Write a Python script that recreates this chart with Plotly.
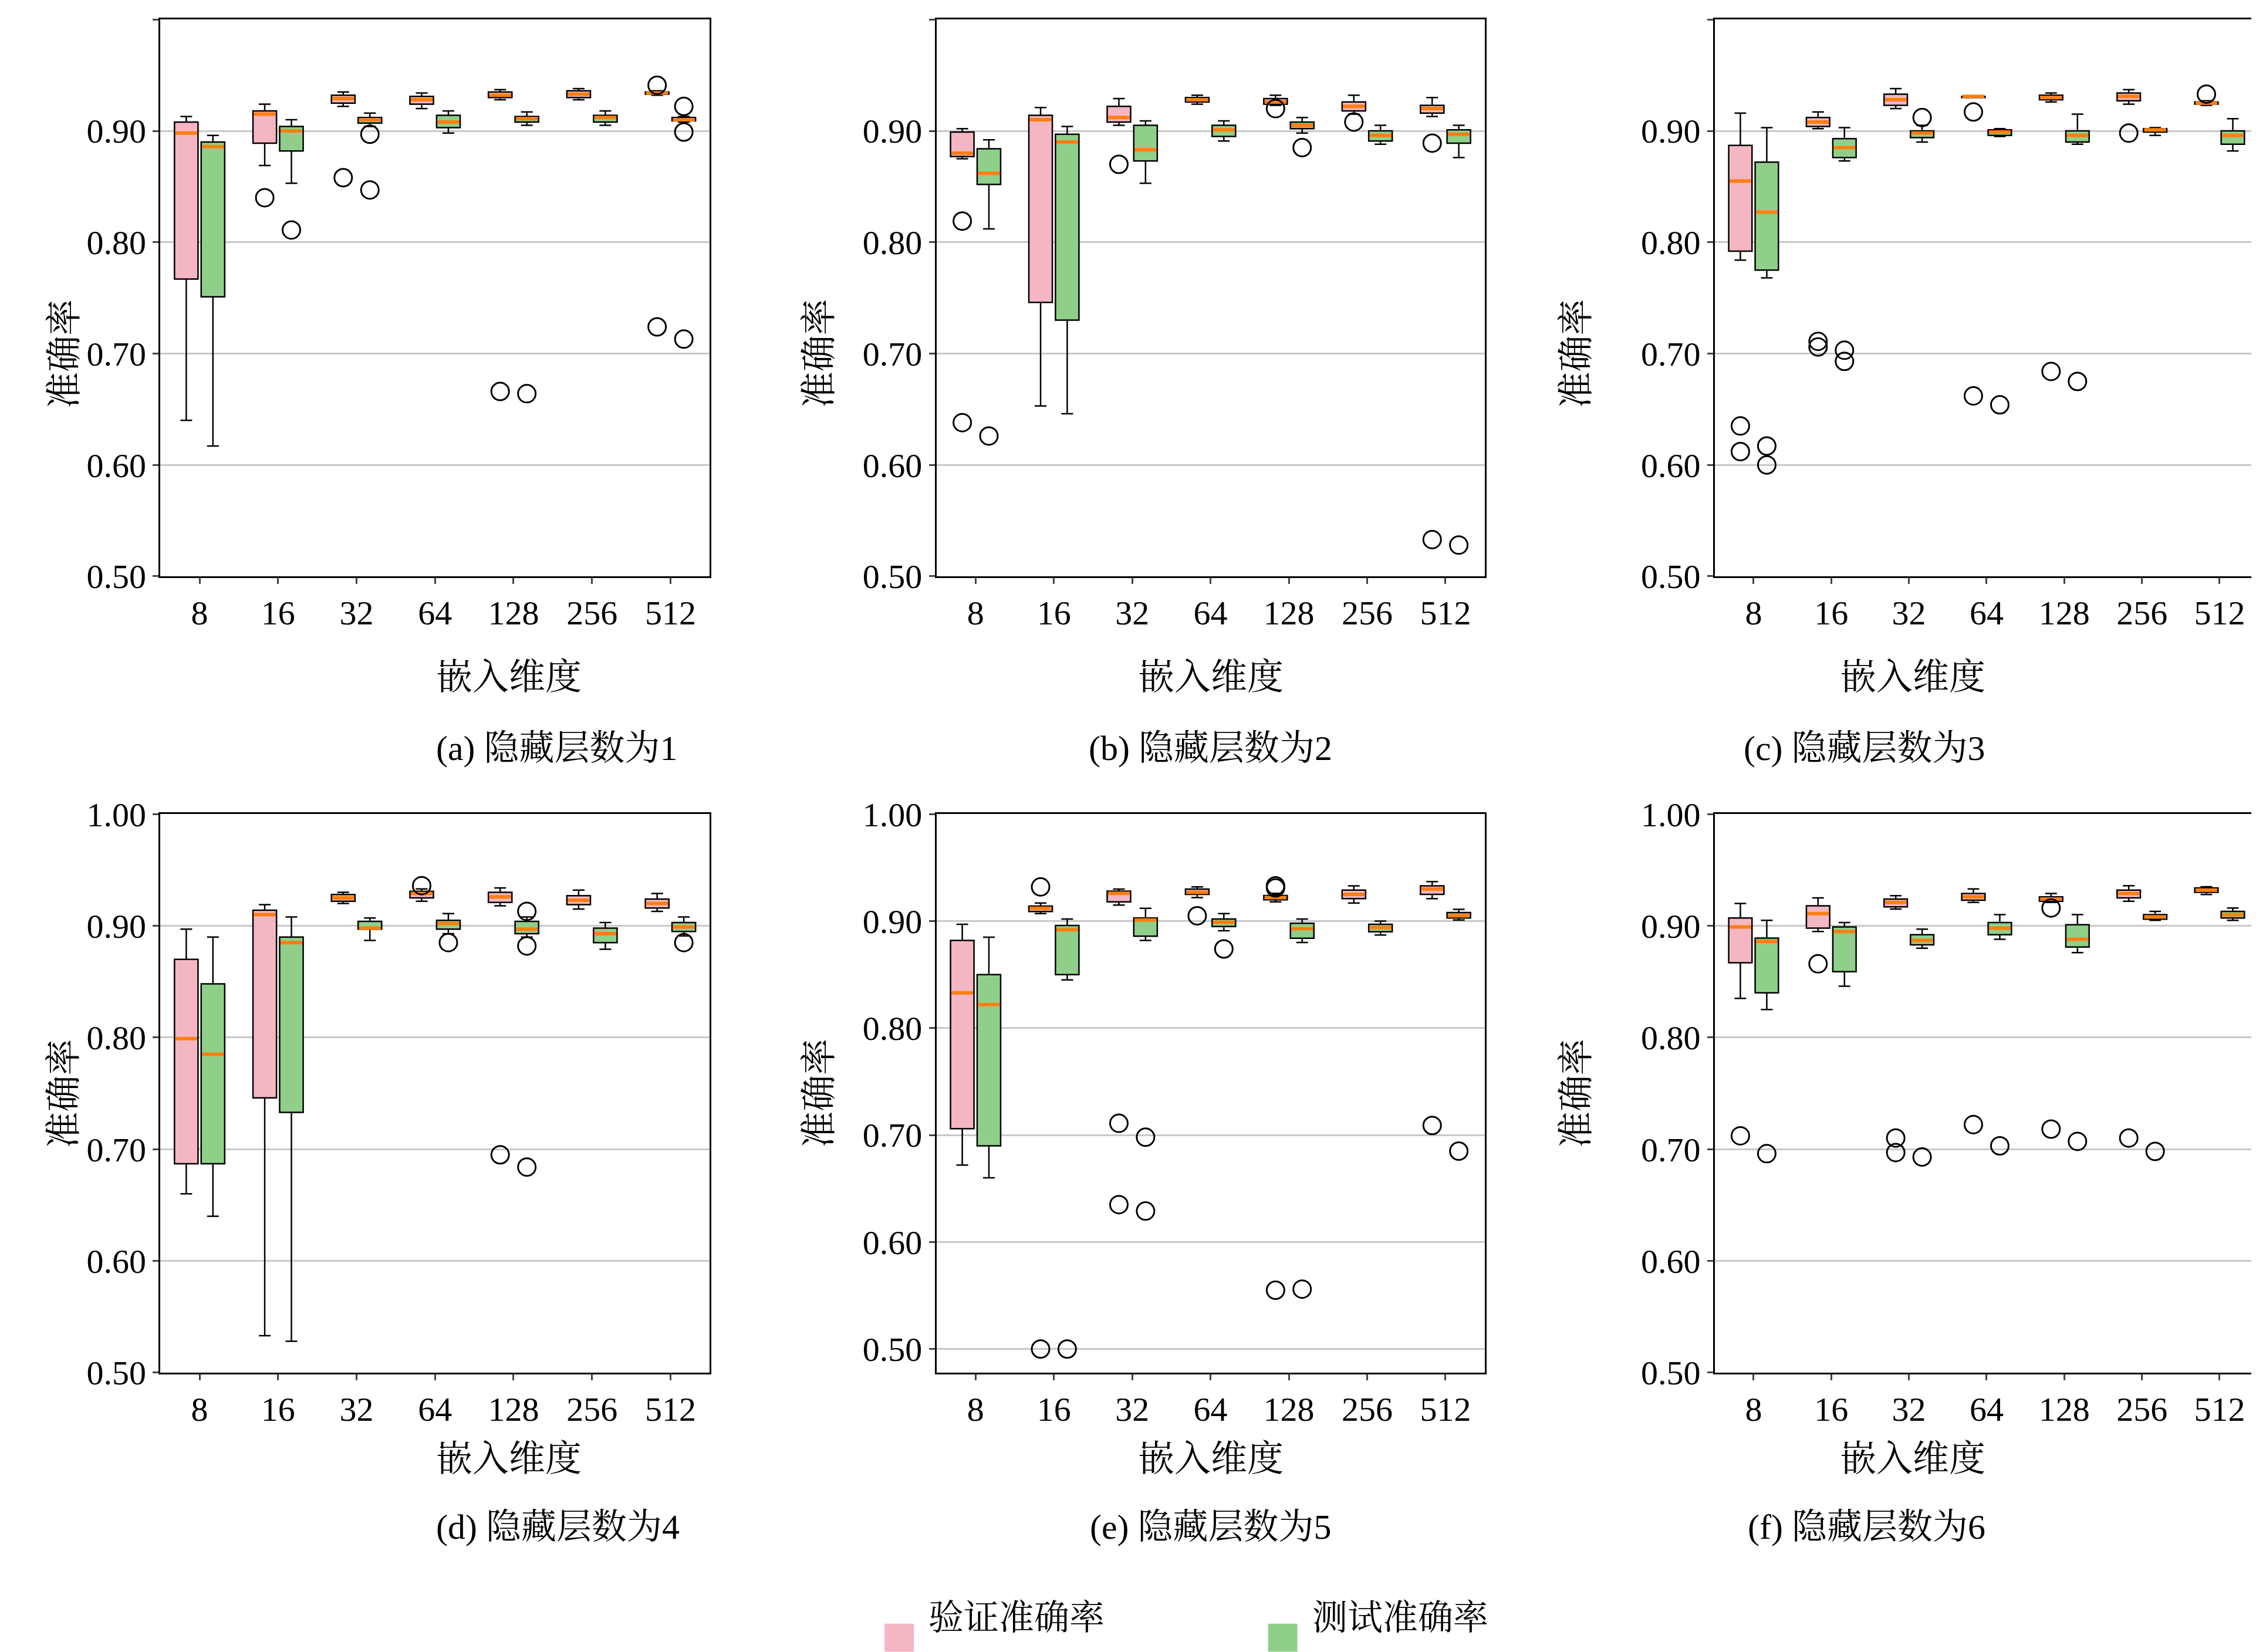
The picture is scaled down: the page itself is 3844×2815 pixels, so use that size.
import plotly.graph_objects as go
from plotly.subplots import make_subplots

dims = ["8", "16", "32", "64", "128", "256", "512"]
captions = ["(a) 隐藏层数为1", "(b) 隐藏层数为2", "(c) 隐藏层数为3",
            "(d) 隐藏层数为4", "(e) 隐藏层数为5", "(f) 隐藏层数为6"]
legend_names = ["验证准确率", "测试准确率"]

# each box: (lower whisker, q1, median, q3, upper whisker, [outliers])
val_a = [(0.640,0.767,0.898,0.908,0.913,[]),(0.869,0.889,0.915,0.918,0.924,[0.840]),(0.922,0.925,0.929,0.932,0.935,[0.858]),
         (0.920,0.924,0.928,0.931,0.934,[]),(0.928,0.930,0.932,0.935,0.937,[0.666]),(0.928,0.930,0.933,0.936,0.938,[]),
         (0.932,0.933,0.934,0.935,0.936,[0.941,0.724])]
test_a = [(0.617,0.751,0.886,0.890,0.896,[]),(0.853,0.882,0.900,0.904,0.910,[0.811]),(0.904,0.907,0.910,0.912,0.916,[0.847,0.897]),
          (0.898,0.903,0.908,0.914,0.918,[]),(0.905,0.908,0.911,0.913,0.917,[0.664]),(0.905,0.908,0.912,0.914,0.918,[]),
          (0.908,0.909,0.910,0.912,0.913,[0.922,0.899,0.713])]
val_b = [(0.875,0.877,0.880,0.899,0.902,[0.819,0.638]),(0.653,0.746,0.910,0.914,0.921,[]),(0.905,0.908,0.912,0.922,0.929,[0.870]),
         (0.924,0.926,0.928,0.930,0.932,[]),(0.923,0.924,0.926,0.929,0.932,[0.920]),(0.915,0.918,0.922,0.926,0.932,[0.908]),
         (0.913,0.916,0.920,0.923,0.930,[0.889,0.533])]
test_b = [(0.812,0.852,0.862,0.884,0.892,[0.626]),(0.646,0.730,0.890,0.897,0.904,[]),(0.853,0.873,0.883,0.905,0.909,[]),
          (0.891,0.895,0.901,0.905,0.909,[]),(0.898,0.902,0.905,0.908,0.912,[0.885]),(0.888,0.891,0.896,0.900,0.905,[]),
          (0.876,0.889,0.897,0.901,0.905,[0.528])]
val_c = [(0.784,0.792,0.855,0.887,0.916,[0.635,0.612]),(0.902,0.904,0.908,0.912,0.917,[0.711,0.706]),(0.920,0.923,0.928,0.933,0.938,[]),
         (0.930,0.930,0.931,0.931,0.931,[0.917,0.662]),(0.926,0.928,0.930,0.932,0.934,[0.684]),(0.924,0.927,0.931,0.934,0.937,[0.898]),
         (0.923,0.924,0.925,0.926,0.927,[0.933])]
test_c = [(0.768,0.775,0.827,0.872,0.903,[0.617,0.600]),(0.873,0.876,0.885,0.893,0.903,[0.703,0.693]),(0.890,0.894,0.898,0.900,0.905,[0.912]),
          (0.895,0.896,0.899,0.901,0.902,[0.654]),(0.888,0.890,0.896,0.900,0.915,[0.675]),(0.896,0.899,0.901,0.902,0.903,[]),
          (0.882,0.888,0.896,0.900,0.911,[])]
val_d = [(0.660,0.687,0.799,0.870,0.897,[]),(0.533,0.746,0.910,0.914,0.919,[]),(0.920,0.922,0.925,0.928,0.930,[]),
         (0.922,0.925,0.929,0.931,0.933,[0.936]),(0.918,0.921,0.926,0.930,0.934,[0.695]),(0.915,0.919,0.923,0.927,0.932,[]),
         (0.913,0.916,0.920,0.924,0.929,[])]
test_d = [(0.640,0.687,0.785,0.848,0.890,[]),(0.528,0.733,0.885,0.890,0.908,[]),(0.887,0.897,0.898,0.904,0.907,[]),
          (0.893,0.897,0.902,0.905,0.911,[0.885]),(0.890,0.893,0.897,0.904,0.908,[0.913,0.882,0.684]),(0.879,0.885,0.893,0.898,0.903,[]),
          (0.891,0.895,0.899,0.903,0.908,[0.885])]
val_e = [(0.672,0.706,0.833,0.882,0.897,[]),(0.907,0.909,0.912,0.914,0.917,[0.932,0.500]),(0.915,0.918,0.926,0.928,0.930,[0.711,0.635]),
         (0.922,0.925,0.927,0.930,0.932,[0.905]),(0.918,0.920,0.922,0.924,0.926,[0.933,0.931,0.555]),(0.917,0.921,0.925,0.929,0.933,[]),
         (0.921,0.925,0.930,0.933,0.937,[0.709])]
test_e = [(0.660,0.690,0.822,0.850,0.885,[]),(0.845,0.850,0.892,0.896,0.902,[0.500]),(0.882,0.886,0.901,0.903,0.912,[0.698,0.629]),
          (0.891,0.895,0.899,0.902,0.907,[0.874]),(0.880,0.884,0.893,0.898,0.902,[0.556]),(0.887,0.890,0.894,0.897,0.900,[]),
          (0.901,0.903,0.905,0.908,0.911,[0.685])]
val_f = [(0.835,0.867,0.899,0.907,0.920,[0.712]),(0.895,0.898,0.911,0.918,0.925,[0.866]),(0.915,0.917,0.921,0.924,0.927,[0.710,0.697]),
         (0.921,0.923,0.926,0.929,0.933,[0.722]),(0.921,0.922,0.924,0.926,0.929,[0.916,0.718]),(0.922,0.925,0.929,0.932,0.936,[0.710]),
         (0.928,0.930,0.932,0.934,0.935,[])]
test_f = [(0.825,0.840,0.886,0.889,0.905,[0.696]),(0.846,0.859,0.895,0.899,0.903,[]),(0.880,0.883,0.887,0.892,0.897,[0.693]),
          (0.888,0.892,0.898,0.903,0.910,[0.703]),(0.876,0.881,0.888,0.901,0.910,[0.707]),(0.905,0.906,0.908,0.910,0.913,[0.698]),
          (0.905,0.907,0.910,0.913,0.916,[])]

panels = [(val_a, test_a), (val_b, test_b), (val_c, test_c), (val_d, test_d), (val_e, test_e), (val_f, test_f)]
yranges = [[0.5, 1.0]] * 4 + [[0.478, 1.0]] + [[0.5, 1.0]]

FONT = "Liberation Serif, Times New Roman, Noto Serif CJK SC, Noto Sans CJK SC"
PINK, GREEN, ORANGE = "#f4b6c2", "#8fcf8a", "#ff7f0e"
OFF, W = 0.17, 0.3

fig = make_subplots(rows=2, cols=3)
xdom = [[0.069, 0.3125], [0.413, 0.656], [0.758, 0.999]]
ydom = [[0.654, 0.991], [0.172, 0.510]]

for p, (vals, tests) in enumerate(panels):
    r, c = p // 3 + 1, p % 3 + 1
    for series, off, col in [(vals, -OFF, PINK), (tests, OFF, GREEN)]:
        xs = [i + off for i in range(len(dims))]
        fig.add_trace(go.Box(
            x=xs, lowerfence=[s[0] for s in series], q1=[s[1] for s in series], median=[s[2] for s in series],
            q3=[s[3] for s in series], upperfence=[s[4] for s in series],
            fillcolor=col, line=dict(color="black", width=2.5), width=W, whiskerwidth=0.5,
            showlegend=False, hoverinfo="skip"), row=r, col=c)
        mx, my = [], []
        for x, s in zip(xs, series):
            mx += [x - W / 2 + 0.01, x + W / 2 - 0.01, None]
            my += [s[2], s[2], None]
        fig.add_trace(go.Scatter(x=mx, y=my, mode="lines", line=dict(color=ORANGE, width=6),
                                 showlegend=False, hoverinfo="skip"), row=r, col=c)
        ox, oy = [], []
        for x, s in zip(xs, series):
            for o in s[5]:
                ox.append(x); oy.append(o)
        fig.add_trace(go.Scatter(x=ox, y=oy, mode="markers",
                                 marker=dict(symbol="circle-open", size=30, color="black", line=dict(width=3)),
                                 showlegend=False, hoverinfo="skip"), row=r, col=c)
    ax = "" if p == 0 else str(p + 1)
    fig.layout["xaxis" + ax].update(domain=xdom[c - 1], range=[-0.5, 6.5], tickvals=list(range(7)), ticktext=dims,
                                    showline=True, mirror=True, linecolor="black", linewidth=2.5, ticks="outside",
                                    ticklen=10, tickwidth=2.5, showgrid=False, zeroline=False,
                                    tickfont=dict(size=58, family=FONT, color="black"))
    fig.layout["yaxis" + ax].update(domain=ydom[r - 1], range=yranges[p], tickvals=[0.5, 0.6, 0.7, 0.8, 0.9, 1.0],
                                    tickformat=".2f", showline=True, mirror=True, linecolor="black", linewidth=2.5,
                                    ticks="outside", ticklen=10, tickwidth=2.5, showgrid=True, gridcolor="#c8c8c8",
                                    gridwidth=2.5, zeroline=False, tickfont=dict(size=58, family=FONT, color="black"))
    xc = (xdom[c - 1][0] + xdom[c - 1][1]) / 2
    xt_y = 0.593 if r == 1 else 0.107
    cap_y = 0.550 if r == 1 else 0.066
    fig.add_annotation(text="嵌入维度", x=xc, y=xt_y, xref="paper", yref="paper", showarrow=False,
                       font=dict(size=62, family=FONT, color="black"))
    fig.add_annotation(text=captions[p], x=xc, y=cap_y, xref="paper", yref="paper", showarrow=False,
                       font=dict(size=60, family=FONT, color="black"))
    fig.add_annotation(text="准确率", x=xdom[c - 1][0] - 0.052, y=sum(ydom[r - 1]) / 2, xref="paper", yref="paper",
                       showarrow=False, textangle=-90, font=dict(size=62, family=FONT, color="black"))

# custom legend
for name, col, x0 in [(legend_names[0], PINK, 0.390), (legend_names[1], GREEN, 0.560)]:
    fig.add_shape(type="rect", xref="paper", yref="paper", x0=x0, x1=x0 + 0.013, y0=0.003, y1=0.020,
                  fillcolor=col, line=dict(width=0))
    fig.add_annotation(text=name, x=x0 + 0.019, y=0.011, xref="paper", yref="paper", xanchor="left",
                       showarrow=False, font=dict(size=60, family=FONT, color="black"))

fig.update_layout(
    width=3844, height=2815, plot_bgcolor="white", paper_bgcolor="white",
    margin=dict(l=0, r=0, t=0, b=0, autoexpand=False), boxmode="overlay", showlegend=False,
)
fig.write_html("out.html")
